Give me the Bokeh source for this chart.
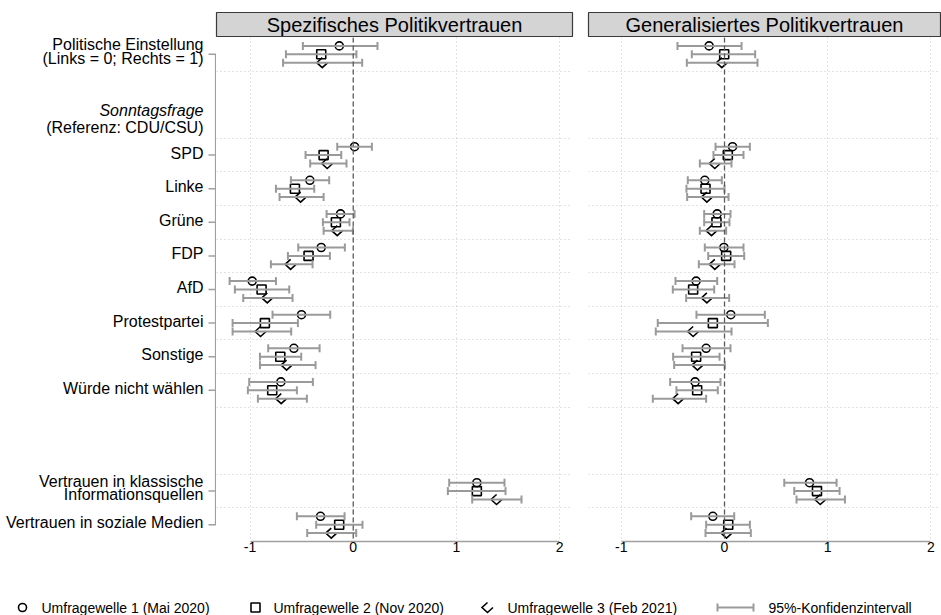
from bokeh.plotting import figure
from bokeh.models import (Range1d, FixedTicker, ColumnDataSource, Whisker, TeeHead,
                          Span, Label)
from bokeh.layouts import column, row
from bokeh.embed import file_html
from bokeh.resources import INLINE
from bokeh.core.properties import value

FONT = "Liberation Sans"

# ---------------- data ----------------
panel_titles = ["Spezifisches Politikvertrauen", "Generalisiertes Politikvertrauen"]
wave_labels = ["Umfragewelle 1 (Mai 2020)", "Umfragewelle 2 (Nov 2020)", "Umfragewelle 3 (Feb 2021)"]
ci_label = "95%-Konfidenzintervall"
group_header = ["Sonntagsfrage", "(Referenz: CDU/CSU)"]

categories = [
    "Politische Einstellung\n(Links = 0; Rechts = 1)",
    "SPD", "Linke", "Grüne", "FDP", "AfD", "Protestpartei", "Sonstige",
    "Würde nicht wählen",
    "Vertrauen in klassische\nInformationsquellen",
    "Vertrauen in soziale Medien",
]
# row order of the coefficient plot (None = empty row, "#group" = group header)
row_layout = [categories[0], None, "#group"] + categories[1:9] + [None, None] + categories[9:]

x_ticks = [-1, 0, 1, 2]

# Spezifisches Politikvertrauen
spez_w1 = [-0.135, 0.013, -0.420, -0.123, -0.310, -0.979, -0.501, -0.575, -0.701, 1.198, -0.317]
spez_w1_lo = [-0.488, -0.155, -0.604, -0.258, -0.533, -1.198, -0.782, -0.824, -1.008, 0.930, -0.546]
spez_w1_hi = [0.235, 0.181, -0.233, 0.013, -0.081, -0.749, -0.223, -0.326, -0.391, 1.466, -0.084]
spez_w2 = [-0.310, -0.287, -0.565, -0.168, -0.433, -0.888, -0.856, -0.707, -0.785, 1.198, -0.136]
spez_w2_lo = [-0.652, -0.462, -0.749, -0.294, -0.633, -1.147, -1.169, -0.904, -1.021, 0.917, -0.359]
spez_w2_hi = [0.031, -0.116, -0.378, -0.036, -0.226, -0.620, -0.536, -0.504, -0.546, 1.476, 0.090]
spez_w3 = [-0.300, -0.252, -0.510, -0.155, -0.607, -0.833, -0.898, -0.646, -0.698, 1.389, -0.213]
spez_w3_lo = [-0.680, -0.417, -0.714, -0.287, -0.798, -1.066, -1.169, -0.904, -0.924, 1.153, -0.446]
spez_w3_hi = [0.087, -0.065, -0.287, -0.003, -0.394, -0.588, -0.601, -0.365, -0.449, 1.631, 0.029]

# Generalisiertes Politikvertrauen
gen_w1 = [-0.149, 0.078, -0.191, -0.071, -0.006, -0.275, 0.061, -0.178, -0.285, 0.824, -0.113]
gen_w1_lo = [-0.456, -0.087, -0.356, -0.197, -0.191, -0.475, -0.272, -0.407, -0.527, 0.579, -0.323]
gen_w1_hi = [0.165, 0.246, -0.026, 0.058, 0.184, -0.071, 0.391, 0.058, -0.039, 1.086, 0.094]
gen_w2 = [-0.003, 0.032, -0.184, -0.078, 0.016, -0.304, -0.113, -0.275, -0.265, 0.896, 0.036]
gen_w2_lo = [-0.317, -0.107, -0.369, -0.197, -0.158, -0.501, -0.647, -0.498, -0.466, 0.676, -0.178]
gen_w2_hi = [0.297, 0.184, 0.000, 0.048, 0.191, -0.100, 0.420, -0.048, -0.065, 1.115, 0.246]
gen_w3 = [-0.026, -0.094, -0.171, -0.126, -0.094, -0.171, -0.304, -0.262, -0.449, 0.928, 0.019]
gen_w3_lo = [-0.365, -0.239, -0.362, -0.239, -0.249, -0.372, -0.666, -0.488, -0.695, 0.698, -0.184]
gen_w3_hi = [0.320, 0.068, 0.039, 0.016, 0.097, 0.045, 0.068, 0.003, -0.178, 1.167, 0.255]

panels = [
    [(spez_w1, spez_w1_lo, spez_w1_hi), (spez_w2, spez_w2_lo, spez_w2_hi), (spez_w3, spez_w3_lo, spez_w3_hi)],
    [(gen_w1, gen_w1_lo, gen_w1_hi), (gen_w2, gen_w2_lo, gen_w2_hi), (gen_w3, gen_w3_lo, gen_w3_hi)],
]

# ---------------- style / layout ----------------
CI_COLOR = "#9a9a9a"
AXIS_COLOR = "#a0a0a0"
GRID_COLOR = "#c4c4c4"
MARK_W = 1.6
FRAME_H = 504
LABEL_W = 216
PANEL = [  # frame width, x start, x end, border left, border right
    dict(fw=356, xs=-1.325, xe=2.125, bl=0, br=8),
    dict(fw=352, xs=-1.318, xe=2.093, bl=8, br=1),
]
wave_offset = [-0.25, 0.0, 0.25]
n_rows = len(row_layout)
rows = [i for i, c in enumerate(row_layout) if c is not None and c != "#group"]
group_row = row_layout.index("#group")
grid_rows = sorted({r + d for r in rows for d in (-0.5, 0.5)} - {-0.5, n_rows - 0.5})
y_range = Range1d(n_rows - 0.5, -0.5)


def diamond_paths(xs, ys, px_x, px_y, hx=5.5, hy=5.0):
    dx, dy = hx / px_x, hy / px_y
    return ([[x + dx, x, x - dx, x] for x in xs],
            [[y, y + dy, y, y - dy] for y in ys])


def blank(fig):
    fig.grid.visible = False
    fig.outline_line_color = None


# ---------------- y-axis label column ----------------
lab = figure(frame_width=LABEL_W, frame_height=FRAME_H, min_border_top=0, min_border_bottom=40,
             min_border_left=0, min_border_right=0,
             x_range=Range1d(0, LABEL_W), y_range=y_range,
             x_axis_location=None, y_axis_location=None,
             toolbar_location=None, output_backend="svg")
blank(lab)
lab.text([LABEL_W - 13] * len(rows), rows, text=categories,
         y_offset=[-3 if "\n" in c else -2 for c in categories],
         text_align="right", text_baseline="middle", text_line_height=0.8,
         text_font=value(FONT), text_font_size="16px", text_color="black")
lab.text([LABEL_W - 13], [group_row], text=[group_header[0]], y_offset=-11,
         text_align="right", text_baseline="middle", text_font=value(FONT),
         text_font_size="16px", text_font_style="italic", text_color="black")
lab.text([LABEL_W - 13], [group_row], text=[group_header[1]], y_offset=6,
         text_align="right", text_baseline="middle", text_font=value(FONT),
         text_font_size="16px", text_color="black")
# axis line and tick marks
lab.segment([LABEL_W - 8] * len(rows), rows, [LABEL_W] * len(rows), rows,
            line_color=AXIS_COLOR, line_width=1.5)
lab.segment([LABEL_W - 0.8], [rows[0]], [LABEL_W - 0.8], [rows[-1]],
            line_color=AXIS_COLOR, line_width=1.6)

headers, plots = [], []
for k, cfg in enumerate(PANEL):
    # header strip
    h = figure(frame_width=cfg["fw"], frame_height=24, min_border_top=12, min_border_bottom=1,
               min_border_left=cfg["bl"] + (LABEL_W if k == 0 else 0), min_border_right=cfg["br"],
               x_range=Range1d(0, 1), y_range=Range1d(0, 1),
               x_axis_location=None, y_axis_location=None,
               toolbar_location=None, output_backend="svg")
    h.grid.visible = False
    h.background_fill_color = "#d4d4d4"
    h.outline_line_color = "#3a3a3a"
    h.outline_line_width = 1.2
    h.add_layout(Label(x=0.5, y=0.5, text=panel_titles[k], text_align="center",
                       text_baseline="middle", text_font=FONT,
                       text_font_size="20px", text_color="black"))
    headers.append(h)

    p = figure(frame_width=cfg["fw"], frame_height=FRAME_H,
               min_border_top=0, min_border_bottom=40,
               min_border_left=cfg["bl"], min_border_right=cfg["br"],
               x_range=Range1d(cfg["xs"], cfg["xe"]), y_range=y_range,
               y_axis_location=None,
               toolbar_location=None, output_backend="svg")
    p.outline_line_color = None
    p.xgrid.ticker = FixedTicker(ticks=x_ticks)
    p.ygrid.ticker = FixedTicker(ticks=grid_rows)
    for g in (p.xgrid, p.ygrid):
        g.grid_line_color = GRID_COLOR
        g.grid_line_dash = "1 3"
        g.grid_line_width = 1

    xa = p.xaxis[0]
    xa.ticker = FixedTicker(ticks=x_ticks)
    xa.bounds = (min(x_ticks), max(x_ticks))
    xa.major_label_overrides = {t: str(t) for t in x_ticks}
    xa.axis_line_color = AXIS_COLOR
    xa.axis_line_width = 1.5
    xa.major_tick_line_color = None
    xa.major_tick_out = 0
    xa.major_tick_in = 0
    xa.minor_tick_line_color = None
    xa.major_label_standoff = 0
    xa.major_label_text_font = FONT
    xa.major_label_text_font_size = "14px"
    xa.major_label_text_color = "black"

    p.add_layout(Span(location=0, dimension="height", line_color="#5a5a5a",
                      line_dash="5 3", line_width=1.3))

    px_x = cfg["fw"] / (cfg["xe"] - cfg["xs"])
    px_y = FRAME_H / n_rows
    for w, (coef, lo, hi) in enumerate(panels[k]):
        ys = [r + wave_offset[w] for r in rows]
        src = ColumnDataSource(dict(x=coef, y=ys, lo=lo, hi=hi))
        p.add_layout(Whisker(source=src, base="y", lower="lo", upper="hi", dimension="width",
                             line_color=CI_COLOR, line_width=2,
                             upper_head=TeeHead(size=8, line_color=CI_COLOR, line_width=2),
                             lower_head=TeeHead(size=8, line_color=CI_COLOR, line_width=2),
                             level="glyph"))
    for w, (coef, lo, hi) in enumerate(panels[k]):
        ys = [r + wave_offset[w] for r in rows]
        if w == 0:
            p.scatter(coef, ys, marker="circle", size=8, fill_color=None,
                      line_color="black", line_width=MARK_W)
        elif w == 1:
            p.scatter(coef, ys, marker="square", size=9, fill_color=None,
                      line_color="black", line_width=MARK_W)
        else:
            dxs, dys = diamond_paths(coef, ys, px_x, px_y)
            p.multi_line(dxs, dys, line_color="black", line_width=MARK_W, line_join="miter")
    plots.append(p)

# ---------------- legend strip ----------------
LW, LH = 941, 34
leg = figure(width=LW, height=LH, x_range=Range1d(0, LW), y_range=Range1d(LH, 0),
             x_axis_location=None, y_axis_location=None, min_border=0,
             toolbar_location=None, output_backend="svg")
blank(leg)
ly = 26
item_x = [22, 255, 487, 717]
text_x = [41, 273, 507, 768]
ci_len = 36
leg.scatter([item_x[0]], [ly], marker="circle", size=8, fill_color=None, line_color="black", line_width=MARK_W)
leg.scatter([item_x[1]], [ly], marker="square", size=9, fill_color=None, line_color="black", line_width=MARK_W)
ldx, ldy = diamond_paths([item_x[2]], [ly], 1, 1)
leg.multi_line(ldx, ldy, line_color="black", line_width=MARK_W, line_join="miter")
leg.segment([item_x[3]], [ly], [item_x[3] + ci_len], [ly], line_color=CI_COLOR, line_width=2)
leg.segment([item_x[3], item_x[3] + ci_len], [ly - 4] * 2, [item_x[3], item_x[3] + ci_len], [ly + 4] * 2,
            line_color=CI_COLOR, line_width=2)
leg.text(text_x, [ly] * 4, text=wave_labels + [ci_label], text_align="left",
         text_baseline="middle", text_font=value(FONT), text_font_size="14px", text_color="black")

layout = column(row(*headers), row(lab, *plots), leg)
open("out.html", "w").write(file_html(layout, INLINE))
